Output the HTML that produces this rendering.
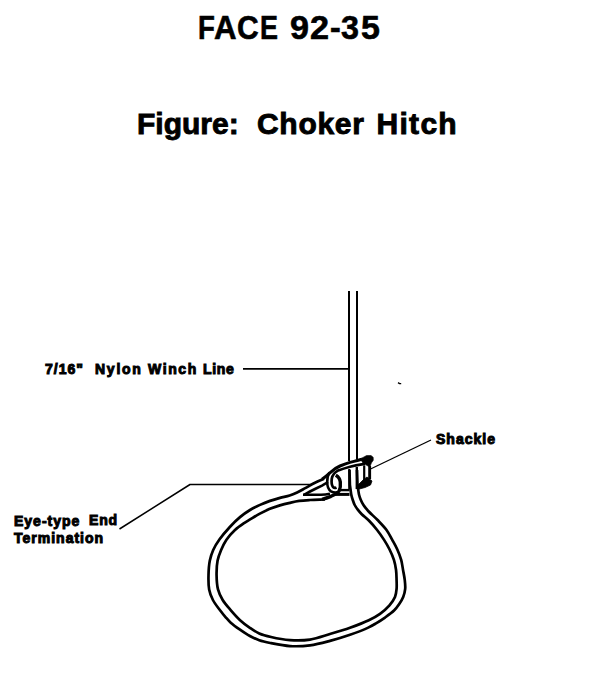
<!DOCTYPE html>
<html><head><meta charset="utf-8"><style>
html,body{margin:0;padding:0;background:#fff;}
body{width:600px;height:697px;position:relative;overflow:hidden;font-family:"Liberation Sans",sans-serif;font-weight:bold;color:#000;}
.t{position:absolute;white-space:pre;line-height:1;}
svg{position:absolute;left:0;top:0;}
.tt{top:11.3px;font-size:33px;-webkit-text-stroke:0.6px #000;transform-origin:0 0;}
.lb{font-size:14px;-webkit-text-stroke:1px #000;}
</style></head><body>
<div class="t tt" style="left:198.33px;transform:scaleX(0.835);">F</div>
<div class="t tt" style="left:214.05px;transform:scaleX(0.945);">A</div>
<div class="t tt" style="left:237.39px;transform:scaleX(0.909);">C</div>
<div class="t tt" style="left:259.87px;transform:scaleX(0.816);">E</div>
<div class="t tt" style="left:290.26px;transform:scaleX(1.035);">9</div>
<div class="t tt" style="left:310.46px;transform:scaleX(1.038);">2</div>
<div class="t tt" style="left:329.78px;transform:scaleX(0.972);">-</div>
<div class="t tt" style="left:341.12px;transform:scaleX(0.979);">3</div>
<div class="t tt" style="left:361.22px;transform:scaleX(1.029);">5</div>
<div class="t" style="left:137px;top:108.5px;font-size:30px;-webkit-text-stroke:0.9px #000;">Figure:</div>
<div class="t" style="left:257px;top:108.5px;font-size:30px;letter-spacing:0.7px;-webkit-text-stroke:0.9px #000;">Choker</div>
<div class="t" style="left:376.5px;top:108.5px;font-size:30px;letter-spacing:1.3px;-webkit-text-stroke:0.9px #000;">Hitch</div>
<div class="t lb" style="left:45px;top:362px;letter-spacing:1px;">7/16"</div>
<div class="t lb" style="left:95px;top:362px;letter-spacing:1.75px;">Nylon</div>
<div class="t lb" style="left:148px;top:362px;letter-spacing:1.6px;">Winch</div>
<div class="t lb" style="left:203px;top:362px;letter-spacing:0.67px;">Line</div>
<div class="t lb" style="left:436px;top:431.5px;letter-spacing:1px;">Shackle</div>
<div class="t lb" style="left:14px;top:513px;letter-spacing:1px;line-height:17px;">Eye-type
Termination</div>
<div class="t lb" style="left:89px;top:513px;letter-spacing:0.8px;">End</div>
<svg width="600" height="697" viewBox="0 0 600 697">
<g fill="none" stroke="#000" stroke-linecap="butt" stroke-linejoin="round">
<path d="M243 368.8H348.6" stroke-width="1.7"/>
<path d="M370.5 469L431 440" stroke-width="1.3"/>
<path d="M398 382.6 L399.6 383.6 H401.2" stroke-width="1.3"/>
<path d="M119.5 529L190 484.5H312" stroke-width="1.5"/>

<path d="M349 291V461" stroke-width="2"/>
<path d="M357 291V459.5" stroke-width="2"/>
<path d="M349.3 469V489" stroke-width="2.2"/>
<path d="M356.8 467V489" stroke-width="2.4"/>
<path d="M357.00 470.00 C357.17 475.00 357.50 485.00 357.50 485.00 C357.50 485.00 357.50 485.00 357.50 485.00 C357.50 485.00 357.98 488.33 358.25 490.00 C358.52 491.67 358.70 493.35 359.12 495.00 C359.55 496.68 360.14 498.35 360.84 500.00 C361.57 501.71 362.35 503.36 363.46 505.06 C364.74 507.02 366.28 508.86 368.21 510.98 C370.75 513.76 374.56 516.91 377.59 520.06 C380.66 523.25 384.01 526.56 386.52 530.00 C388.84 533.18 390.45 536.61 392.26 539.88 C394.01 543.02 395.74 545.97 397.20 549.24 C398.72 552.63 400.19 556.33 401.18 559.88 C402.11 563.25 402.45 566.64 403.05 570.00 C403.64 573.31 404.39 576.65 404.74 579.88 C405.08 582.94 405.47 585.98 405.19 588.88 C404.92 591.66 404.22 594.38 403.20 596.94 C402.18 599.51 400.59 602.00 399.06 604.26 C397.60 606.42 396.28 608.28 394.28 610.27 C391.81 612.73 388.16 615.32 385.00 617.57 C381.93 619.76 378.58 621.85 375.60 623.61 C373.02 625.13 371.26 626.18 368.20 627.60 C363.53 629.77 356.25 632.58 350.00 634.76 C343.53 637.01 336.70 639.09 330.00 640.86 C323.37 642.60 316.71 644.45 310.00 645.32 C303.37 646.18 296.56 646.45 290.00 646.07 C283.59 645.70 276.63 644.23 271.08 643.13 C266.65 642.26 262.90 641.56 259.24 640.29 C255.88 639.12 252.98 637.68 249.88 635.98 C246.57 634.16 243.20 631.86 240.00 629.63 C236.82 627.41 233.26 624.89 230.75 622.64 C228.79 620.89 227.59 619.47 225.92 617.55 C223.92 615.26 221.73 612.54 219.66 609.76 C217.40 606.73 214.68 603.44 212.92 600.00 C211.20 596.65 209.90 593.27 209.15 589.40 C208.29 585.03 208.39 579.80 208.51 575.00 C208.63 570.20 208.95 564.99 209.84 560.60 C210.62 556.75 211.67 553.43 213.21 550.00 C214.81 546.42 216.90 543.12 219.40 539.58 C222.30 535.46 226.28 530.81 229.85 526.96 C233.16 523.37 236.52 520.02 240.00 517.12 C243.25 514.41 246.59 512.07 250.00 510.00 C253.26 508.01 256.63 506.40 260.00 504.87 C263.30 503.37 266.64 502.05 270.00 500.87 C273.31 499.71 276.69 498.76 280.00 497.85 C283.23 496.97 286.66 496.46 289.64 495.50 C292.33 494.63 294.61 493.62 297.12 492.44 C299.80 491.18 302.41 489.64 305.24 488.11 C308.35 486.43 311.78 484.35 315.00 482.75 C318.03 481.25 321.00 480.08 324.00 478.75" stroke-width="2.7"/>
<path d="M349.50 470.00 C349.63 475.00 349.90 485.00 349.90 485.00 C349.90 485.00 349.90 485.00 349.90 485.00 C349.90 485.00 350.35 488.33 350.59 490.00 C350.84 491.67 350.99 493.34 351.35 495.00 C351.72 496.68 352.23 498.35 352.78 500.00 C353.34 501.68 353.87 503.39 354.71 505.00 C355.59 506.69 356.79 508.33 357.97 509.88 C359.14 511.41 360.24 512.71 361.75 514.24 C363.70 516.20 366.47 518.09 368.84 520.48 C371.58 523.24 374.54 526.73 377.11 530.00 C379.62 533.20 381.98 536.58 384.08 539.88 C386.07 543.00 387.83 545.97 389.45 549.24 C391.12 552.62 392.81 556.32 393.92 559.88 C394.97 563.25 395.61 566.63 396.05 570.00 C396.48 573.30 396.49 576.66 396.58 579.88 C396.66 582.95 396.86 585.97 396.58 588.88 C396.31 591.68 396.07 594.40 394.99 597.03 C393.81 599.91 391.75 602.69 389.46 605.34 C386.87 608.33 383.43 611.38 380.00 613.86 C376.55 616.36 373.10 618.20 368.80 620.27 C363.42 622.87 356.41 625.48 350.00 627.76 C343.48 630.08 336.68 632.06 330.00 634.04 C323.35 636.00 316.73 638.57 310.00 639.58 C303.39 640.57 296.55 640.57 290.00 640.13 C283.58 639.70 276.61 638.33 271.08 637.04 C266.63 636.01 262.86 635.06 259.24 633.45 C255.83 631.93 252.98 629.92 249.88 627.79 C246.58 625.52 243.19 623.00 240.06 620.14 C236.77 617.13 233.59 613.48 230.65 610.06 C227.81 606.76 224.82 603.54 222.68 600.00 C220.65 596.64 219.03 593.29 218.00 589.40 C216.86 585.05 216.64 579.80 216.57 575.00 C216.50 570.20 216.72 564.98 217.59 560.60 C218.35 556.74 219.68 553.43 221.12 550.00 C222.57 546.55 224.11 543.16 226.29 539.94 C228.65 536.46 231.93 532.83 234.97 529.98 C237.74 527.39 240.87 525.25 243.64 523.36 C246.01 521.74 248.01 520.67 250.48 519.20 C253.36 517.48 256.72 515.38 259.88 513.68 C262.97 512.02 265.98 510.45 269.24 509.09 C272.63 507.68 276.37 506.46 279.88 505.40 C283.24 504.38 286.59 503.57 289.88 502.81 C293.04 502.08 296.00 501.36 299.24 500.90 C302.69 500.41 306.11 500.23 310.00 500.00 C314.58 499.73 320.00 499.67 325.00 499.50" stroke-width="2.7"/>
<!-- band top (L1 continuation) -->
<path d="M322 479.2 C324.5 477.5 327.5 475 330.5 472.3 C333 470 336.5 467.5 340 466 C343.5 464.6 347 463.3 350 462.4 C355 461.2 359 460.2 362 459.2" stroke-width="3"/>
<!-- blob top -->
<path d="M360.5 458.8 L364 456.9 L366.5 455.6 L371 455.5 L373.2 457.3 L373.3 460.2 L371.5 462.8 L370.3 465.8 L368.3 466.3 L365.5 464.6 L362.5 462.5 Z" fill="#000" stroke-width="0.6"/>
<!-- band lower black + B2 -->
<path d="M365 463.8 C361 464.5 356 465.3 350 466.7 C345 468 341 469.4 337.5 470.8 C334.5 472.5 332.3 475.5 331.8 478.5 C331.3 482 331.6 485 333 487 C334 488 335.5 488 336.5 487.5" stroke-width="2.7"/>
<!-- B1 outer arc -->
<path d="M329.5 472.5 C327.8 475 327.2 478.5 327.2 482 C327.2 486 328.2 489.5 331 491.3 C333 492.5 335.5 492.6 337.5 492.3" stroke-width="2.6"/>
<!-- B3 -->
<path d="M335.8 475.2 C338.5 476.8 340 479 340.3 482 C340.6 485 340.6 488 339.2 490.8 C337.8 493 335 494.5 331 496.3 C328 497.5 325 498.5 322 499.3" stroke-width="3.4"/>
<!-- L2 -->
<path d="M304 494.8 L310 491.5 L315 489 L322 485.6 L328 482" stroke-width="2.6"/>
<!-- tip bottom -->
<path d="M303 494.7 H321 C324 494.7 327 494.4 330 493.8" stroke-width="2.6"/>
<path d="M340.5 490.1 H349.5" stroke-width="2.4"/>
<path d="M334 494.4 H349.5" stroke-width="3"/>
<!-- shackle legs -->
<path d="M364.2 465.5 V481" stroke-width="2.2"/>
<path d="M369.2 464.5 V479" stroke-width="2"/>
<path d="M370.5 466 V479" stroke-width="1.2"/>
<!-- blob bottom -->
<path d="M367 477 L372 481 L370.5 485 L365 487.5 L357.5 489.5 L358 485 L363 480 Z" fill="#000" stroke-width="0.8"/>

</g>
</svg>
</body></html>
